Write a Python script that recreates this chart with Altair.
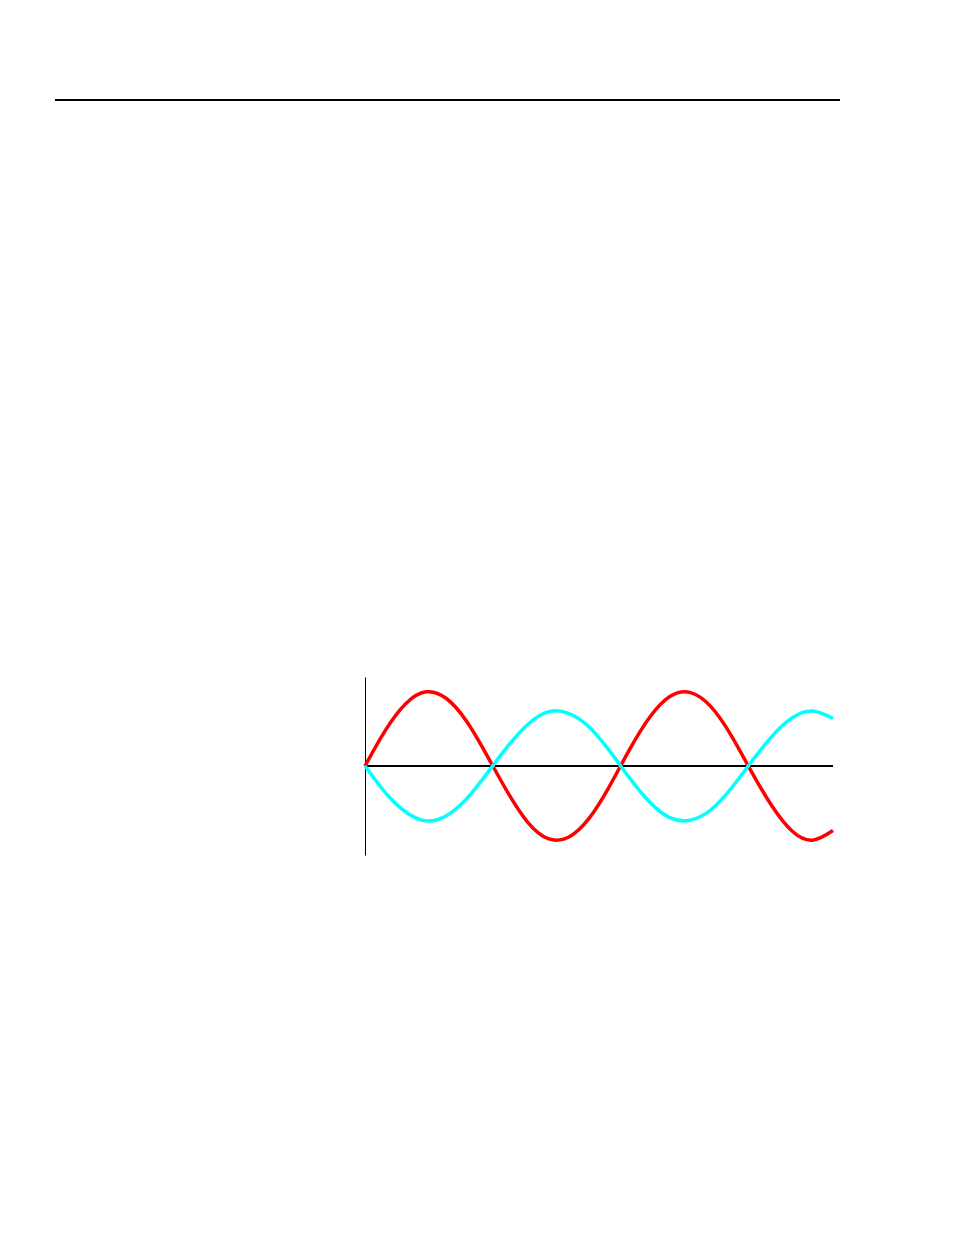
import altair as alt
import pandas as pd

# Sampled positions along the horizontal axis
x_vals = [0.0, 0.5, 1.0, 1.5, 2.0, 2.5, 3.0, 3.5, 4.0, 4.5, 5.0, 5.5,
          6.0, 6.5, 7.0, 7.5, 8.0, 8.5, 9.0, 9.5, 10.0, 10.5, 11.0, 11.5]

# Red curve (larger amplitude)
red_vals = [0.00, 0.48, 0.84, 1.00, 0.91, 0.60, 0.14, -0.35, -0.76, -0.98, -0.96, -0.71,
            -0.28, 0.22, 0.66, 0.94, 0.99, 0.80, 0.41, -0.08, -0.54, -0.88, -1.00, -0.87]

# Cyan curve (smaller amplitude, opposite phase)
cyan_vals = [0.00, -0.36, -0.62, -0.74, -0.67, -0.44, -0.10, 0.26, 0.56, 0.73, 0.71, 0.53,
             0.21, -0.16, -0.49, -0.70, -0.73, -0.59, -0.30, 0.06, 0.40, 0.65, 0.74, 0.64]

red_df = pd.DataFrame({"x": x_vals, "y": red_vals})
cyan_df = pd.DataFrame({"x": x_vals, "y": cyan_vals})

x_scale = alt.Scale(domain=[0, 11.5], nice=False, zero=False)
y_scale = alt.Scale(domain=[-1.2, 1.2], nice=False, zero=False)

y_axis = alt.Axis(domain=True, domainColor="black", domainWidth=1, ticks=False,
                  labels=False, grid=False, title=None)

red_line = alt.Chart(red_df).mark_line(color="#ff0000", strokeWidth=3.5, interpolate="natural", clip=False).encode(
    x=alt.X("x:Q", scale=x_scale, axis=None),
    y=alt.Y("y:Q", scale=y_scale, axis=y_axis),
)

cyan_line = alt.Chart(cyan_df).mark_line(color="#00ffff", strokeWidth=3.5, interpolate="natural", clip=False).encode(
    x=alt.X("x:Q", scale=x_scale, axis=None),
    y=alt.Y("y:Q", scale=y_scale, axis=y_axis),
)

zero_line = alt.Chart(red_df).mark_rule(color="black", strokeWidth=1).encode(
    y=alt.YDatum(0),
)

top_rule = alt.Chart(red_df).mark_rule(color="black", strokeWidth=2, clip=False).encode(
    x=alt.value(-310), x2=alt.value(475), y=alt.value(-577)
)

chart = alt.layer(zero_line, red_line, cyan_line, top_rule).properties(
    width=468,
    height=178,
    autosize=alt.AutoSizeParams(type="none"),
    padding={"left": 357, "top": 669, "right": 100, "bottom": 100},
).configure_view(stroke=None)

chart.save("out.html", embed_options={"renderer": "svg", "actions": False})
